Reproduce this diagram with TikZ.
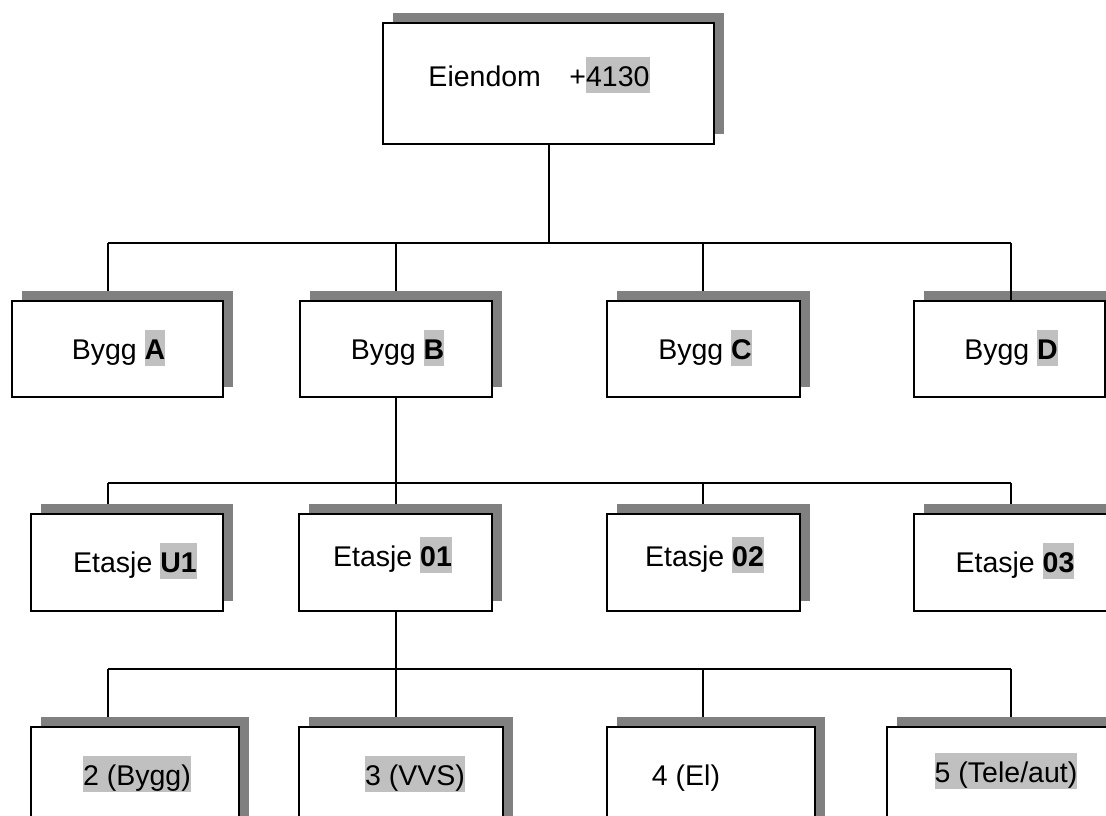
\documentclass[tikz,border=0pt]{standalone}
\usepackage{fontspec}
\setmainfont{Liberation Sans}
\usetikzlibrary{shadows,backgrounds}
\definecolor{shadowgray}{HTML}{808080}
\definecolor{hlgray}{HTML}{C0C0C0}
\newcommand{\tstr}{\rule[-0.25em]{0pt}{1.29em}}
\newcommand{\hlbox}[1]{{\setlength{\fboxsep}{0pt}\colorbox{hlgray}{\tstr#1}}}
\begin{document}
\begin{tikzpicture}[x=1pt,y=-1pt,
  orgbox/.style={draw=black, line width=2pt, fill=white, rectangle, inner sep=0pt, outer sep=0pt,
    drop shadow={shadow xshift=10pt, shadow yshift=10pt, fill=shadowgray, opacity=1}},
  lbl/.style={inner sep=0pt, font=\fontsize{28.5}{34}\selectfont},
  conn/.style={line width=2pt, draw=black}]
\useasboundingbox (0,0) rectangle (1106,816);
\clip (0,0) rectangle (1106,816);

% level 0
\node[orgbox, minimum width=331pt, minimum height=121pt] (top) at (548.5,83.5) {};
\node[lbl] (topt) at (539,75) {\tstr Eiendom\hspace{1em}+\hlbox{4130}};

% level 1
\node[orgbox, minimum width=211pt, minimum height=96pt] (A) at (117.5,349) {};
\node[orgbox, minimum width=192pt, minimum height=96pt] (B) at (396,349) {};
\node[orgbox, minimum width=193pt, minimum height=96pt] (C) at (703.5,349) {};
\node[orgbox, minimum width=191pt, minimum height=96pt] (D) at (1009.5,349) {};
\node[lbl] (At) at (118.5,348) {\tstr Bygg \hlbox{\textbf{A}}};
\node[lbl] (Bt) at (397.5,348) {\tstr Bygg \hlbox{\textbf{B}}};
\node[lbl] (Ct) at (705,348) {\tstr Bygg \hlbox{\textbf{C}}};
\node[lbl] (Dt) at (1011,348) {\tstr Bygg \hlbox{\textbf{D}}};

% level 2
\node[orgbox, minimum width=192pt, minimum height=97pt] (U1) at (127,562.5) {};
\node[orgbox, minimum width=193pt, minimum height=97pt] (E01) at (395.5,562.5) {};
\node[orgbox, minimum width=193pt, minimum height=97pt] (E02) at (703.5,562.5) {};
\node[orgbox, minimum width=200pt, minimum height=97pt] (E03) at (1014,562.5) {};
\node[lbl] (U1t) at (135,561) {\tstr Etasje \hlbox{\textbf{U1}}};
\node[lbl] (E01t) at (392.5,555) {\tstr Etasje \hlbox{\textbf{01}}};
\node[lbl] (E02t) at (704.5,555) {\tstr Etasje \hlbox{\textbf{02}}};
\node[lbl] (E03t) at (1015,561) {\tstr Etasje \hlbox{\textbf{03}}};

% level 3
\node[orgbox, minimum width=208pt, minimum height=110pt] (F2) at (135,782) {};
\node[orgbox, minimum width=204pt, minimum height=110pt] (F3) at (401,782) {};
\node[orgbox, minimum width=208pt, minimum height=110pt] (F4) at (711,782) {};
\node[orgbox, minimum width=220pt, minimum height=110pt] (F5) at (997,782) {};
\node[lbl] (F2t) at (137,774) {\hlbox{2 (Bygg)}};
\node[lbl] (F3t) at (415,774) {\hlbox{3 (VVS)}};
\node[lbl] (F4t) at (686,774) {\tstr 4 (El)};
\node[lbl] (F5t) at (1006,771) {\hlbox{5 (Tele/aut)}};

% connectors
\coordinate (j1a) at (108,243);
\coordinate (j1b) at (396,243);
\coordinate (j1c) at (703,243);
\coordinate (j1d) at (1011,243);
\coordinate (j2a) at (108,483);
\coordinate (j2b) at (396,483);
\coordinate (j2c) at (703,483);
\coordinate (j2d) at (1011,483);
\coordinate (j3a) at (108,669);
\coordinate (j3b) at (396,669);
\coordinate (j3c) at (703,669);
\coordinate (j3d) at (1011,669);

\begin{scope}[on background layer]
\draw[conn] (j1a) -- (j1d);
\draw[conn] (top.south) -- (top.south |- j1a);
\draw[conn] (j1a) -- (j1a |- A.north);
\draw[conn] (j1b) -- (j1b |- B.north);
\draw[conn] (j1c) -- (j1c |- C.north);

\draw[conn] (j2a) -- (j2d);
\draw[conn] (B.south) -- (B.south |- j2a);
\draw[conn] (j2a) -- (j2a |- U1.north);
\draw[conn] (j2b) -- (j2b |- E01.north);
\draw[conn] (j2c) -- (j2c |- E02.north);
\draw[conn] (j2d) -- (j2d |- E03.north);

\draw[conn] (j3a) -- (j3d);
\draw[conn] (E01.south) -- (E01.south |- j3a);
\draw[conn] (j3a) -- (j3a |- F2.north);
\draw[conn] (j3b) -- (j3b |- F3.north);
\draw[conn] (j3c) -- (j3c |- F4.north);
\draw[conn] (j3d) -- (j3d |- F5.north);
\end{scope}
\draw[conn] (j1d) -- (j1d |- D.north);
\end{tikzpicture}
\end{document}
